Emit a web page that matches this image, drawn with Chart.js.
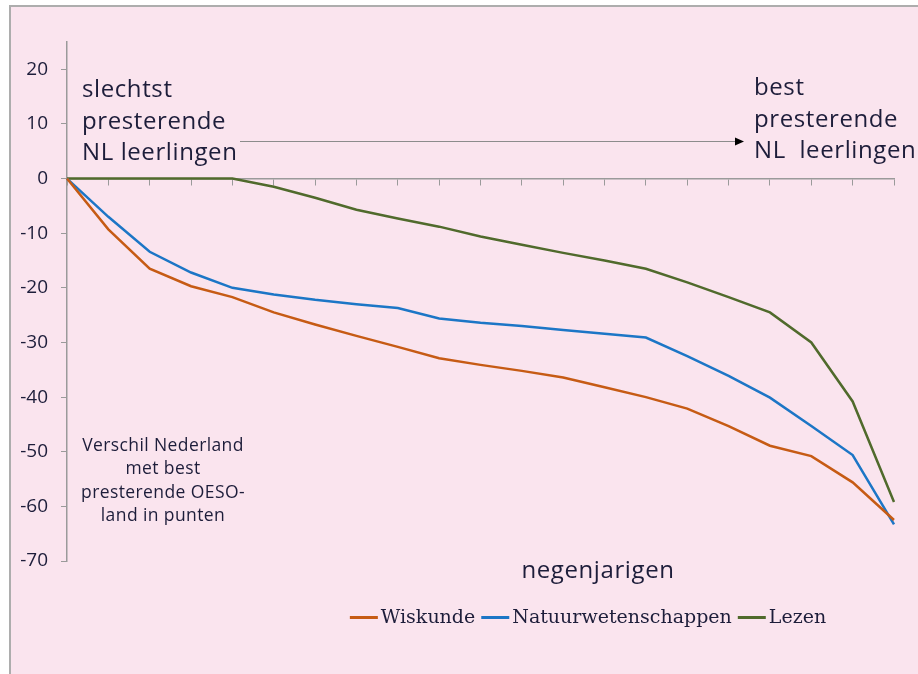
<!DOCTYPE html>
<html>
<head>
<meta charset="utf-8">
<script src="https://cdn.jsdelivr.net/npm/chart.js@4"></script>
<style>
  html, body { margin: 0; padding: 0; background: #fff; }
  #wrap { width: 918px; height: 674px; }
</style>
</head>
<body>
<div id="wrap"><canvas id="chart" width="918" height="674"></canvas></div>
<script>
// groepen leerlingen, van slechtst naar best presterend
const groepen = ["1", "2", "3", "4", "5", "6", "7", "8", "9", "10", "11", "12", "13", "14", "15", "16", "17", "18", "19", "20", "21"];

// verschil met best presterende OESO-land (punten)
const wiskunde = [0, -9.3, -16.5, -19.7, -21.7, -24.5, -26.7, -28.8, -30.8, -32.9, -34.1, -35.2, -36.4, -38.2, -40.0, -42.1, -45.3, -48.9, -50.8, -55.6, -62.5];
const natuur = [0, -7.0, -13.4, -17.2, -20.0, -21.2, -22.2, -23.0, -23.7, -25.6, -26.4, -27.0, -27.7, -28.4, -29.1, -32.5, -36.1, -40.1, -45.3, -50.6, -63.3];
const lezen = [0, 0, 0, 0, 0, -1.5, -3.5, -5.7, -7.3, -8.8, -10.6, -12.1, -13.6, -15.0, -16.5, -19.0, -21.7, -24.5, -30.0, -40.8, -59.2];

const yTicks = [20, 10, 0, -10, -20, -30, -40, -50, -60, -70];

const textColor = "#1d1d3a";
const pink = "#fae4ee";

// achtergrond met kader
const frame = {
  id: "frame",
  beforeDraw(chart) {
    const ctx = chart.ctx;
    ctx.save();
    ctx.fillStyle = "#ffffff";
    ctx.fillRect(0, 0, chart.width, chart.height);
    ctx.fillStyle = pink;
    ctx.fillRect(10, 6, chart.width - 10, chart.height - 6);
    ctx.strokeStyle = "#adadad";
    ctx.lineWidth = 2;
    ctx.beginPath();
    ctx.moveTo(10, chart.height);
    ctx.lineTo(10, 6);
    ctx.lineTo(chart.width, 6);
    ctx.stroke();
    ctx.restore();
  },
};

// teksten, pijl en legenda
const labels = {
  id: "labels",
  afterDraw(chart) {
    const ctx = chart.ctx;
    ctx.save();
    ctx.fillStyle = textColor;
    ctx.textBaseline = "alphabetic";

    ctx.font = '24px "Open Sans"';
    ctx.letterSpacing = "0.6px";
    ctx.textAlign = "left";
    ["slechtst", "presterende", "NL leerlingen"].forEach((t, i) => {
      ctx.fillText(t, 82, 97 + i * 31.5);
    });
    ["best", "presterende", "NL  leerlingen"].forEach((t, i) => {
      ctx.fillText(t, 754, 95 + i * 31.5);
    });

    ctx.textAlign = "center";
    ctx.fillText("negenjarigen", 598, 578);

    ctx.font = '17.5px "Open Sans"';
    ctx.letterSpacing = "0.4px";
    ["Verschil Nederland", "met best", "presterende OESO-", "land in punten"].forEach((t, i) => {
      ctx.fillText(t, 163, 451 + i * 23.4);
    });
    ctx.letterSpacing = "0px";

    // pijl
    ctx.strokeStyle = "#8c8c8c";
    ctx.lineWidth = 1.2;
    ctx.beginPath();
    ctx.moveTo(240, 141.5);
    ctx.lineTo(736, 141.5);
    ctx.stroke();
    ctx.fillStyle = "#000";
    ctx.beginPath();
    ctx.moveTo(744, 141.5);
    ctx.lineTo(735, 137.5);
    ctx.lineTo(735, 145.5);
    ctx.closePath();
    ctx.fill();

    // legenda
    ctx.font = '19px "DejaVu Serif"';
    ctx.textAlign = "left";
    const items = chart.data.datasets;
    const lineW = 28;
    const gap = 3;
    const between = 6;
    let total = 0;
    items.forEach((d, i) => {
      total += lineW + gap + ctx.measureText(d.label).width;
      if (i < items.length - 1) total += between;
    });
    let x = 588 - total / 2;
    items.forEach((d) => {
      ctx.strokeStyle = d.borderColor;
      ctx.lineWidth = 3;
      ctx.beginPath();
      ctx.moveTo(x, 617.5);
      ctx.lineTo(x + lineW, 617.5);
      ctx.stroke();
      x += lineW + gap;
      ctx.fillStyle = textColor;
      ctx.fillText(d.label, x, 623);
      x += ctx.measureText(d.label).width + between;
    });
    ctx.restore();
  },
};

new Chart(document.getElementById("chart"), {
  type: "line",
  data: {
    labels: groepen,
    datasets: [
      { label: "Wiskunde", data: wiskunde, borderColor: "#c65b14" },
      { label: "Natuurwetenschappen", data: natuur, borderColor: "#1c76c6" },
      { label: "Lezen", data: lezen, borderColor: "#506a2c" },
    ],
  },
  options: {
    responsive: false,
    animation: false,
    layout: { padding: { left: 0, top: 42, right: 24, bottom: 113 } },
    elements: {
      line: { borderWidth: 2.5, tension: 0, fill: false },
      point: { radius: 0 },
    },
    plugins: {
      legend: { display: false },
      tooltip: { enabled: false },
    },
    scales: {
      x: {
        type: "category",
        position: { y: 0 },
        offset: false,
        grid: {
          offset: false,
          drawOnChartArea: false,
          drawTicks: true,
          tickLength: 6,
          color: "#9a9a9a",
        },
        border: { color: "#9a9a9a", width: 1.5 },
        ticks: { display: false },
      },
      y: {
        min: -70,
        max: 25,
        afterBuildTicks(scale) {
          scale.ticks = yTicks.map((v) => ({ value: v }));
        },
        afterFit(scale) {
          scale.width = 67;
        },
        grid: {
          drawOnChartArea: false,
          drawTicks: true,
          tickLength: 6,
          color: "#9a9a9a",
        },
        border: { color: "#9a9a9a", width: 1.5 },
        ticks: {
          padding: 13,
          color: textColor,
          font: { family: "Open Sans", size: 19 },
          callback: (v) => String(v),
        },
      },
    },
  },
  plugins: [frame, labels],
});
</script>
</body>
</html>
